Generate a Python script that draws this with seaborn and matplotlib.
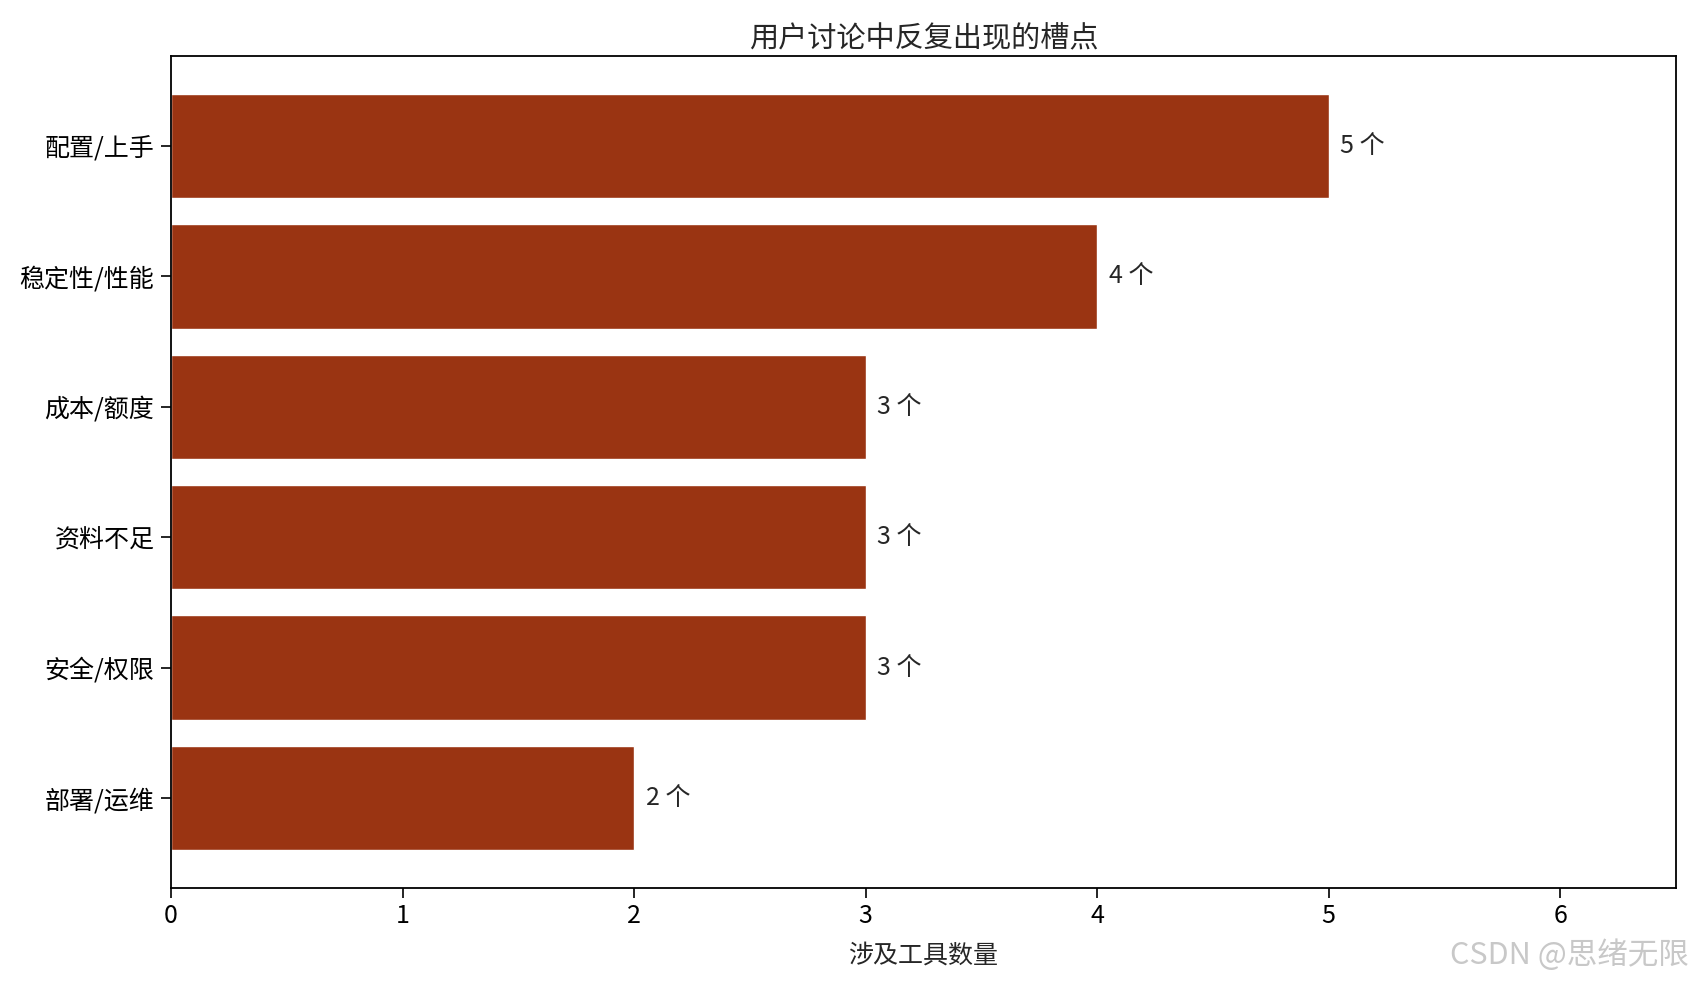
import matplotlib
matplotlib.use("Agg")
import matplotlib.pyplot as plt
import seaborn as sns
import pandas as pd

# ---------------------------------------------------------
# Data
# ---------------------------------------------------------
pain_points = ["配置/上手", "稳定性/性能", "成本/额度", "资料不足", "安全/权限", "部署/运维"]
tool_counts = [5, 4, 3, 3, 3, 2]

df = pd.DataFrame({"pain": pain_points, "count": tool_counts})

# ---------------------------------------------------------
# Styling
# ---------------------------------------------------------
sns.set_style("ticks")
plt.rcParams["font.family"] = ["Noto Sans CJK SC", "DejaVu Sans"]
plt.rcParams["axes.unicode_minus"] = False

fig = plt.figure(figsize=(16.92, 9.83), dpi=100)
ax = fig.add_axes([171 / 1692, 1 - 888 / 983, (1676 - 171) / 1692, (888 - 56) / 983])

sns.barplot(data=df, x="count", y="pain", orient="h", color="#9a3412",
            width=0.8, saturation=1, ax=ax)

for i, v in enumerate(tool_counts):
    ax.text(v + 0.05, i, f"{v} 个", va="center", ha="left", fontsize=18)

ax.set_xlim(0, 6.5)
ax.set_ylim(len(pain_points) - 0.5 + 0.19, -0.5 - 0.19)
ax.set_xticks(range(0, 7))
ax.tick_params(axis="both", labelsize=18, length=7, width=1.2, colors="black")
ax.tick_params(axis="y", pad=5)
ax.set_title("用户讨论中反复出现的槽点", fontsize=21, pad=6)
ax.set_xlabel("涉及工具数量", fontsize=18, labelpad=10)
ax.set_ylabel("")
for s in ax.spines.values():
    s.set_visible(True)
    s.set_linewidth(1.3)
    s.set_color("black")

fig.text(0.998, 0.012, "CSDN @思绪无限", ha="right", va="bottom",
         fontsize=22, color="#c8c8c8")

fig.savefig("out.png", dpi=100)
plt.close(fig)
